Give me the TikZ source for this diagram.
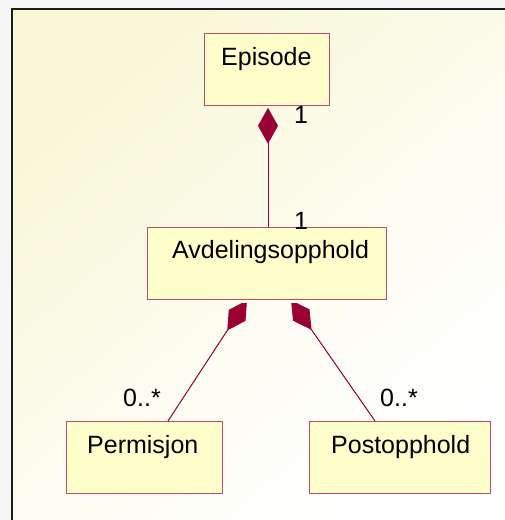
\documentclass[tikz,border=0pt]{standalone}
\usepackage{fontspec}
\setmainfont{Liberation Sans}
\usetikzlibrary{arrows.meta,calc}
\definecolor{pagegray}{HTML}{F7F7F7}
\definecolor{framedark}{HTML}{1C1C1C}
\definecolor{paperylw}{HTML}{F8F7D6}
\definecolor{paperlight}{HTML}{FCFCEE}
\definecolor{classfill}{HTML}{FFFFCC}
\definecolor{classline}{HTML}{C04A68}
\definecolor{assoc}{HTML}{990033}
\pgfdeclarelayer{paper}
\pgfdeclarelayer{edges}
\pgfsetlayers{paper,edges,main}
\tikzset{
  classbox/.style={draw=classline, line width=1.3pt, fill=classfill,
    minimum height=72pt, inner sep=0pt, anchor=north west},
  classname/.style={anchor=base west, inner sep=0pt, font=\fontsize{25}{30}\selectfont},
  mult/.style={anchor=base west, inner sep=0pt, font=\fontsize{25}{30}\selectfont},
  assocline/.style={draw=assoc, line width=1pt},
  comp/.style={-{Diamond[length=36pt,width=20pt]}, fill=assoc}
}
\begin{document}
\begin{tikzpicture}[x=1pt,y=-1pt]
\useasboundingbox (0,0) rectangle (505,520);

% class boxes
\node[classbox, minimum width=125pt] (ep) at (204,33) {};
\node[classbox, minimum width=239pt] (av) at (147,227) {};
\node[classbox, minimum width=156pt] (pe) at (66,421) {};
\node[classbox, minimum width=181pt] (po) at (309,421) {};

% class names
\node[classname] (epname) at ($(ep.north west)+(17,32)$) {Episode};
\node[classname] (avname) at ($(av.north west)+(25,31)$) {Avdelingsopphold};
\node[classname] (pename) at ($(pe.north west)+(21,32)$) {Permisjon};
\node[classname] (poname) at ($(po.north west)+(22,32)$) {Postopphold};

% multiplicities
\node[mult] (m1) at ($(ep.south west)+(90,17)$) {1};
\node[mult] (m2) at ($(av.north west)+(147,2)$) {1};
\node[mult] (m3) at ($(pe.north west)+(57,-15)$) {0..*};
\node[mult] (m4) at ($(po.north west)+(71,-15)$) {0..*};

% compositions
\begin{pgfonlayer}{edges}
  \draw[assocline, comp] ($(av.north west)+(121,0)$) -- ($(ep.south west)+(64,1.5)$);
  \begin{scope}
    \clip ($(av.south west)+(-147,3.5)$) rectangle ($(po.north east)+(15,0)$);
    \draw[assocline, comp] ($(pe.north west)+(102,0)$) -- ($(av.south west)+(100,0)$);
    \draw[assocline, comp] ($(po.north west)+(66,0)$) -- ($(av.south west)+(144,0)$);
  \end{scope}
\end{pgfonlayer}

% paper and frame
\begin{pgfonlayer}{paper}
  \fill[pagegray] (0,0) rectangle (505,520);
  \shade[top color=paperylw, bottom color=white, middle color=paperlight,
    shading angle=40] (11.5,8.5) rectangle (505,520);
  \draw[framedark, line width=2pt] (11.5,520) -- (11.5,8.5) -- (505,8.5);
\end{pgfonlayer}
\end{tikzpicture}
\end{document}
